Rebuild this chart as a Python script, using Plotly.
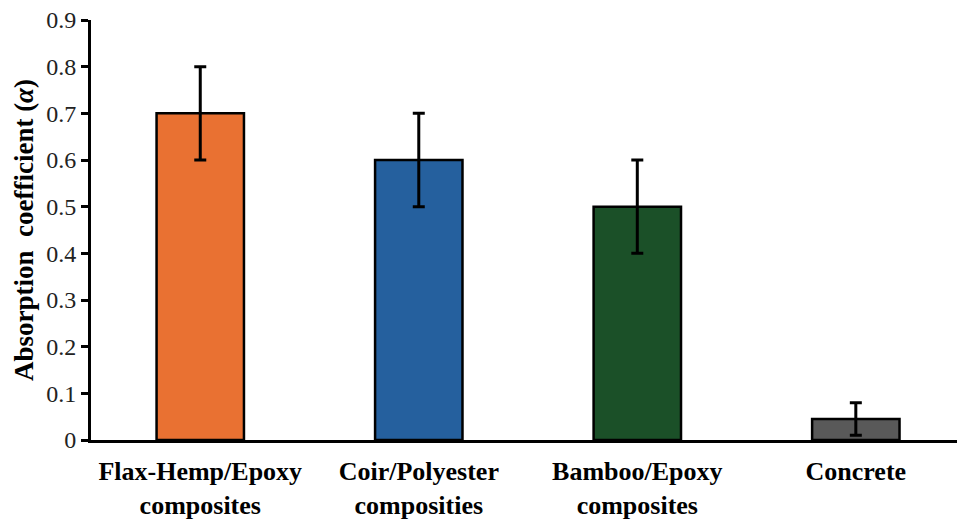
import plotly.graph_objects as go

# Sound absorption coefficients of natural-fibre composites vs. concrete
categories = ["Flax-Hemp/Epoxy<br>composites", "Coir/Polyester<br>composities",
              "Bamboo/Epoxy<br>composites", "Concrete"]
absorption = [0.70, 0.60, 0.50, 0.045]
error = [0.10, 0.10, 0.10, 0.035]
bar_colors = ["#E97132", "#25609E", "#1B5028", "#595959"]

y_tick_vals = [0, 0.1, 0.2, 0.3, 0.4, 0.5, 0.6, 0.7, 0.8, 0.9]
y_tick_text = ["0", "0.1", "0.2", "0.3", "0.4", "0.5", "0.6", "0.7", "0.8", "0.9"]

SERIF = "Times New Roman"

fig = go.Figure(
    go.Bar(
        x=list(range(len(categories))),
        y=absorption,
        width=0.4,
        marker=dict(color=bar_colors, line=dict(color="black", width=2.5)),
        error_y=dict(type="data", array=error, visible=True,
                     color="black", thickness=3, width=6),
    )
)

fig.update_layout(
    width=957, height=519,
    margin=dict(l=91, r=0, t=20, b=79),
    paper_bgcolor="white", plot_bgcolor="white",
    showlegend=False,
    font=dict(family=SERIF, color="black"),
)

fig.update_xaxes(
    tickvals=list(range(len(categories))),
    ticktext=[f"<b>{c}</b>" for c in categories],
    tickfont=dict(family=SERIF, size=26),
    ticklabelstandoff=6,
    range=[-0.5, 3.463],
    showline=True, linecolor="black", linewidth=3,
    ticks="", showgrid=False, zeroline=False,
)

fig.update_yaxes(
    range=[0, 0.9],
    tickvals=y_tick_vals, ticktext=y_tick_text,
    tickfont=dict(family=SERIF, size=24, color="#222222"),
    ticks="outside", ticklen=7, tickwidth=2.5, tickcolor="black",
    showline=True, linecolor="black", linewidth=3,
    showgrid=False, zeroline=False,
    title=dict(text="<b>Absorption  coefficient (<i>α</i>)</b>",
               font=dict(family=SERIF, size=27), standoff=5),
)

fig.write_html("out.html")
